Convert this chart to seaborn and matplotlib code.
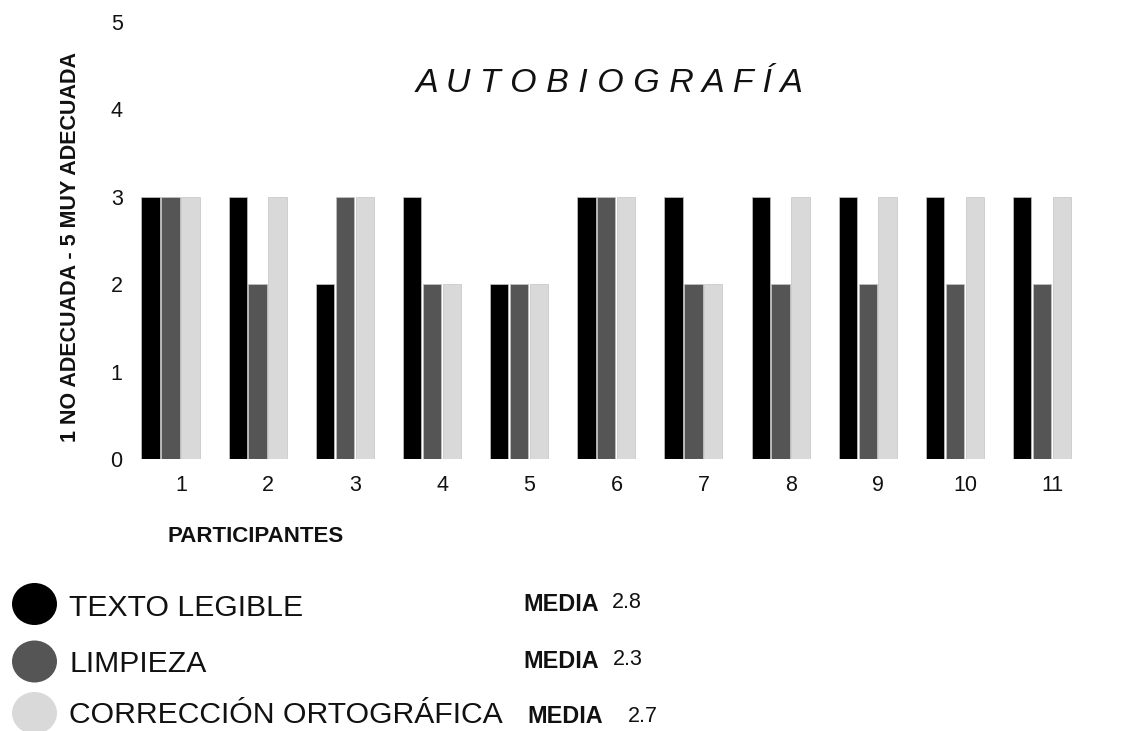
import numpy as np
import pandas as pd
import matplotlib
matplotlib.use("Agg")
import matplotlib.pyplot as plt
import seaborn as sns
from matplotlib.patches import Ellipse

# Scores (1 = no adecuada ... 5 = muy adecuada) per participant
participantes = ["1", "2", "3", "4", "5", "6", "7", "8", "9", "10", "11"]
texto_legible = [3, 3, 2, 3, 2, 3, 3, 3, 3, 3, 3]
limpieza = [3, 2, 3, 2, 2, 3, 2, 2, 2, 2, 2]
correccion = [3, 3, 3, 2, 2, 3, 2, 3, 3, 3, 3]

criterios = ["TEXTO LEGIBLE", "LIMPIEZA", "CORRECCIÓN ORTOGRÁFICA"]
colores = ["#000000", "#555555", "#d9d9d9"]
y_ticks = [0, 1, 2, 3, 4, 5]

titulo = "A U T O B I O G R A F Í A"
etiqueta_y = "1 NO ADECUADA - 5 MUY ADECUADA"
etiqueta_x = "PARTICIPANTES"

sns.set_theme(style="white")
plt.rcParams["font.family"] = ["Liberation Sans", "DejaVu Sans"]

valores = [texto_legible, limpieza, correccion]
df = pd.DataFrame({
    "participante": participantes * len(criterios),
    "criterio": np.repeat(criterios, len(participantes)),
    "valor": np.concatenate(valores),
})

W, H = 1135, 731
fig = plt.figure(figsize=(W / 100, H / 100), dpi=100)
fig.patch.set_facecolor("white")

# axes box in pixel terms
ax_l, ax_r, ax_b, ax_t = 126.9, 1085.6, 459.3, 21.8
ax = fig.add_axes([ax_l / W, 1 - ax_b / H, (ax_r - ax_l) / W, (ax_b - ax_t) / H])

sns.barplot(
    data=df, x="participante", y="valor", hue="criterio",
    order=participantes, hue_order=criterios,
    palette=dict(zip(criterios, colores)),
    width=0.685, gap=0.08, edgecolor="#c4c4c4", linewidth=0.5,
    errorbar=None, legend=False, ax=ax,
)

ax.set_xlim(-0.5, len(participantes) - 0.5)
ax.set_ylim(0, 5)
ax.set_yticks(y_ticks)
ax.set_yticklabels([str(t) for t in y_ticks])
ax.set_xticks(np.arange(len(participantes)) + 0.12)
ax.set_xticklabels(participantes)
ax.tick_params(axis="x", length=0, pad=11, labelsize=15.5, colors="#111111")
ax.tick_params(axis="y", length=0, pad=3, labelsize=15.5, colors="#111111")
sns.despine(ax=ax, left=True, bottom=True)
ax.grid(False)

ax.set_ylabel(etiqueta_y, fontsize=15.5, fontweight="bold", color="#111111")
ax.yaxis.set_label_coords((81 - ax_l) / (ax_r - ax_l), (ax_b - 247) / (ax_b - ax_t))
ax.set_xlabel(etiqueta_x, fontsize=16, fontweight="bold", color="#111111")
ax.xaxis.set_label_coords((256 - ax_l) / (ax_r - ax_l), (ax_b - 526) / (ax_b - ax_t))

ax.text((610 - ax_l) / (ax_r - ax_l), (ax_b - 84) / (ax_b - ax_t), titulo,
        transform=ax.transAxes, ha="center", va="center",
        fontsize=24.5, fontstyle="italic", color="#111111")

# Legend with circular swatches and the mean of each criterion
medias = [round(float(np.mean(v)), 1) for v in valores]
filas_y = [604, 661.5, 713]
base_lbl = [616, 672, 723]
base_media = [611, 668, 723]
x_media = [523, 523, 527]
base_val = [608, 665, 722]
x_val = [612, 613, 628]
for i, (crit, col) in enumerate(zip(criterios, colores)):
    fig.add_artist(Ellipse((34.5 / W, 1 - filas_y[i] / H), 45 / W, 42 / H,
                           transform=fig.transFigure, facecolor=col,
                           edgecolor="none"))
    fig.text(69 / W, 1 - base_lbl[i] / H, crit, ha="left", va="baseline",
             fontsize=21.7, color="#111111")
    fig.text(x_media[i] / W, 1 - base_media[i] / H, "MEDIA", ha="left",
             va="baseline", fontsize=16.8, fontweight="bold", color="#111111")
    fig.text(x_val[i] / W, 1 - base_val[i] / H, f"{medias[i]:.1f}", ha="left",
             va="baseline", fontsize=15.5, color="#111111")

fig.savefig("out.png", dpi=100, facecolor="white")
